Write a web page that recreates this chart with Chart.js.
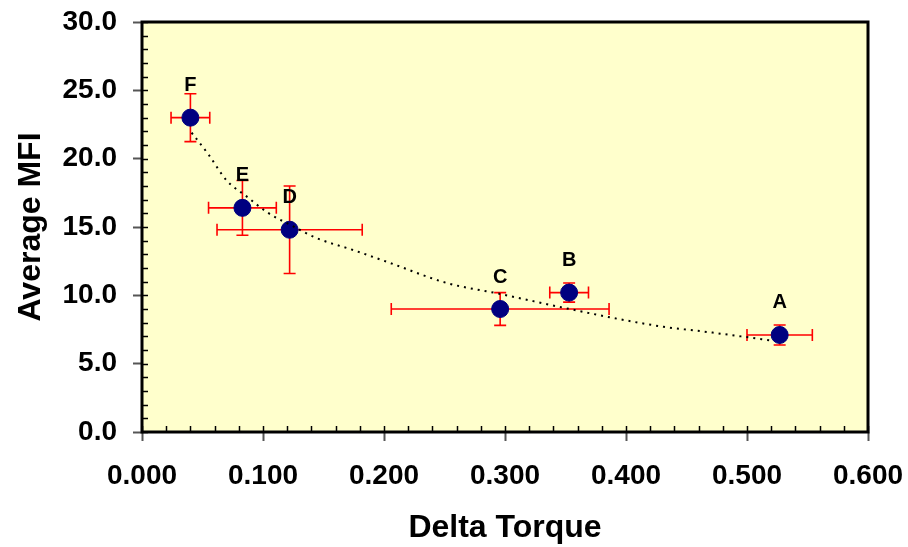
<!DOCTYPE html>
<html>
<head>
<meta charset="utf-8">
<script src="https://cdn.jsdelivr.net/npm/chart.js@4"></script>
<style>
  html, body { margin: 0; padding: 0; background: #fff; }
  #wrap { width: 908px; height: 547px; }
</style>
</head>
<body>
<div id="wrap"><canvas id="mfiChart" width="908" height="547"></canvas></div>
<script>
// Samples A..F
const sampleNames = ['A', 'B', 'C', 'D', 'E', 'F'];
const deltaTorque = [0.527, 0.353, 0.296, 0.122, 0.083, 0.040];
const averageMfi = [7.1, 10.2, 9.0, 14.8, 16.4, 23.0];
const torqueErr = [0.027, 0.016, 0.090, 0.060, 0.028, 0.016];
const mfiErr = [0.73, 0.7, 1.2, 3.2, 2.0, 1.75];

// dotted trend line
const trendX = [0.041, 0.055, 0.070, 0.087, 0.103, 0.126, 0.144, 0.175, 0.204, 0.252, 0.296, 0.348, 0.398, 0.431, 0.469, 0.520];
const trendY = [21.9, 20.3, 18.4, 17.2, 16.1, 15.0, 14.2, 13.3, 12.4, 10.9, 10.1, 9.1, 8.2, 7.7, 7.3, 6.7];

const xTicks = [0, 0.1, 0.2, 0.3, 0.4, 0.5, 0.6];
const yTicks = [0, 5, 10, 15, 20, 25, 30];

const FONT = '"Liberation Sans", Arial, Helvetica, sans-serif';

const plotBackground = {
    id: 'plotBackground',
    beforeDraw(chart) {
        const { ctx, chartArea: a } = chart;
        ctx.save();
        ctx.fillStyle = '#FFFFCC';
        ctx.fillRect(a.left, a.top, a.right - a.left, a.bottom - a.top);
        ctx.restore();
    }
};

// red error bars with caps
const errorBars = {
    id: 'errorBars',
    beforeDatasetsDraw(chart) {
        const { ctx, scales: { x, y } } = chart;
        const cap = 6;
        ctx.save();
        ctx.strokeStyle = '#FF0000';
        ctx.lineWidth = 1.6;
        deltaTorque.forEach((tx, i) => {
            const px = x.getPixelForValue(tx);
            const py = y.getPixelForValue(averageMfi[i]);
            const x0 = x.getPixelForValue(tx - torqueErr[i]);
            const x1 = x.getPixelForValue(tx + torqueErr[i]);
            const y0 = y.getPixelForValue(averageMfi[i] - mfiErr[i]);
            const y1 = y.getPixelForValue(averageMfi[i] + mfiErr[i]);
            ctx.beginPath();
            ctx.moveTo(x0, py); ctx.lineTo(x1, py);
            ctx.moveTo(x0, py - cap); ctx.lineTo(x0, py + cap);
            ctx.moveTo(x1, py - cap); ctx.lineTo(x1, py + cap);
            ctx.moveTo(px, y0); ctx.lineTo(px, y1);
            ctx.moveTo(px - cap, y0); ctx.lineTo(px + cap, y0);
            ctx.moveTo(px - cap, y1); ctx.lineTo(px + cap, y1);
            ctx.stroke();
        });
        ctx.restore();
    }
};

// letters above points, inner minor ticks and the black frame
const decorations = {
    id: 'decorations',
    afterDraw(chart) {
        const { ctx, chartArea: a, scales: { x, y } } = chart;
        ctx.save();
        ctx.fillStyle = '#000';
        ctx.font = 'bold 20px ' + FONT;
        ctx.textAlign = 'center';
        ctx.textBaseline = 'middle';
        sampleNames.forEach((name, i) => {
            ctx.fillText(name, x.getPixelForValue(deltaTorque[i]), y.getPixelForValue(averageMfi[i]) - 32);
        });

        ctx.strokeStyle = '#000';
        ctx.lineWidth = 1.5;
        ctx.beginPath();
        for (let v = 0; v <= 30; v += 1) {
            const py = Math.round(y.getPixelForValue(v)) + 0.5;
            ctx.moveTo(a.left, py); ctx.lineTo(a.left + 6, py);
        }
        for (let k = 0; k <= 30; k++) {
            const px = Math.round(x.getPixelForValue(k * 0.02)) + 0.5;
            ctx.moveTo(px, a.bottom); ctx.lineTo(px, a.bottom - 6);
        }
        ctx.stroke();

        ctx.lineWidth = 3;
        ctx.strokeRect(a.left, a.top, a.right - a.left, a.bottom - a.top);
        ctx.restore();
    }
};

new Chart(document.getElementById('mfiChart'), {
    type: 'scatter',
    data: {
        datasets: [
            {
                label: 'Average MFI',
                data: deltaTorque.map((v, i) => ({ x: v, y: averageMfi[i] })),
                backgroundColor: '#000080',
                borderColor: '#000080',
                pointRadius: 8.5,
                pointHoverRadius: 8.5,
                order: 2
            },
            {
                label: 'Trend',
                data: trendX.map((v, i) => ({ x: v, y: trendY[i] })),
                showLine: true,
                borderColor: '#000',
                borderWidth: 2,
                borderDash: [2, 5],
                pointRadius: 0,
                cubicInterpolationMode: 'monotone',
                fill: false,
                order: 1
            }
        ]
    },
    options: {
        responsive: false,
        animation: false,
        events: [],
        layout: { padding: { top: 22, right: 40, left: 0, bottom: 0 } },
        plugins: {
            legend: { display: false },
            tooltip: { enabled: false }
        },
        scales: {
            x: {
                type: 'linear',
                min: 0,
                max: 0.6,
                afterFit(scale) {
                    scale.height = 115;
                    scale.paddingLeft = 0;
                    scale.paddingRight = 0;
                },
                afterBuildTicks(scale) { scale.ticks = xTicks.map(v => ({ value: v })); },
                border: { display: false },
                grid: { drawOnChartArea: false, drawTicks: true, tickLength: 9, tickWidth: 2, tickColor: '#555' },
                ticks: {
                    padding: 18,
                    color: '#000',
                    font: { family: FONT, size: 28, weight: 'bold' },
                    maxRotation: 0,
                    callback: v => v.toFixed(3)
                },
                title: {
                    display: true,
                    text: 'Delta Torque',
                    color: '#000',
                    font: { family: FONT, size: 32, weight: 'bold' },
                    padding: { top: 0, bottom: 0 }
                }
            },
            y: {
                type: 'linear',
                min: 0,
                max: 30,
                afterFit(scale) {
                    scale.width = 142;
                    scale.paddingTop = 0;
                    scale.paddingBottom = 0;
                },
                afterBuildTicks(scale) { scale.ticks = yTicks.map(v => ({ value: v })); },
                border: { display: false },
                grid: { drawOnChartArea: false, drawTicks: true, tickLength: 9, tickWidth: 2, tickColor: '#555' },
                ticks: {
                    padding: 16,
                    color: '#000',
                    font: { family: FONT, size: 28, weight: 'bold' },
                    callback: v => v.toFixed(1)
                },
                title: {
                    display: true,
                    text: 'Average MFI',
                    color: '#000',
                    font: { family: FONT, size: 32, weight: 'bold' },
                    padding: { top: 12, bottom: 0 }
                }
            }
        }
    },
    plugins: [plotBackground, errorBars, decorations]
});
</script>
</body>
</html>
